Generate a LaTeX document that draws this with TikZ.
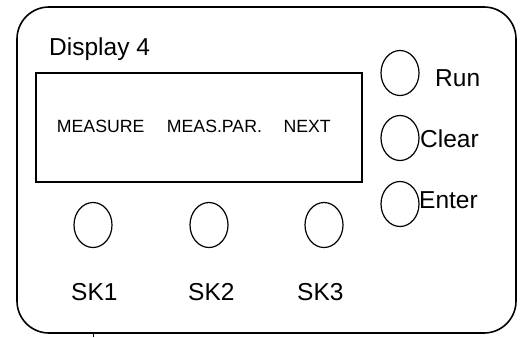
\documentclass[tikz,border=0pt]{standalone}
\usepackage{fontspec}
\setmainfont{Liberation Sans}
\usetikzlibrary{shapes.geometric}
\newcommand{\bigtxt}[1]{\fontsize{24.5}{28}\selectfont #1}
\newcommand{\lcdtxt}[1]{\fontsize{17.7}{21}\selectfont #1}

\begin{document}
\begin{tikzpicture}[x=1pt,y=-1pt,
  button/.style={draw,ellipse,line width=1.2pt,minimum width=38pt,minimum height=45pt,inner sep=0},
  word/.style={anchor=base west,inner sep=0}]
\useasboundingbox (0,0) rectangle (526,337);
\draw[line width=1.6pt,rounded corners=32pt] (17,7) rectangle (516,333);
\draw[line width=0.8pt] (93,333) -- (93,337);
\node[word] (title) at (49,56) {\bigtxt{Display 4}};
\draw[line width=1.5pt] (36,73) rectangle (362,182);
\node[word] (measure) at (56.7,132.7) {\lcdtxt{MEASURE}};
\node[word] (measpar) at (166.7,132.7) {\lcdtxt{MEAS.PAR.}};
\node[word] (next) at (283.3,132.7) {\lcdtxt{NEXT}};
% side keys
\node[button] (run) at (400,73) {};
\node[button] (clear) at (400,138) {};
\node[button] (enter) at (400,204) {};
\node[word] (runlabel) at (435,86) {\bigtxt{Run}};
\node[word] (clearlabel) at (420,147) {\bigtxt{Clear}};
\node[word] (enterlabel) at (419,208) {\bigtxt{Enter}};
% soft keys
\node[button] (sk1) at (93,225) {};
\node[button] (sk2) at (209,225) {};
\node[button] (sk3) at (324,225) {};
\node[word] (sk1label) at (71,300) {\bigtxt{SK1}};
\node[word] (sk2label) at (188,300) {\bigtxt{SK2}};
\node[word] (sk3label) at (297,300) {\bigtxt{SK3}};
\end{tikzpicture}
\end{document}
